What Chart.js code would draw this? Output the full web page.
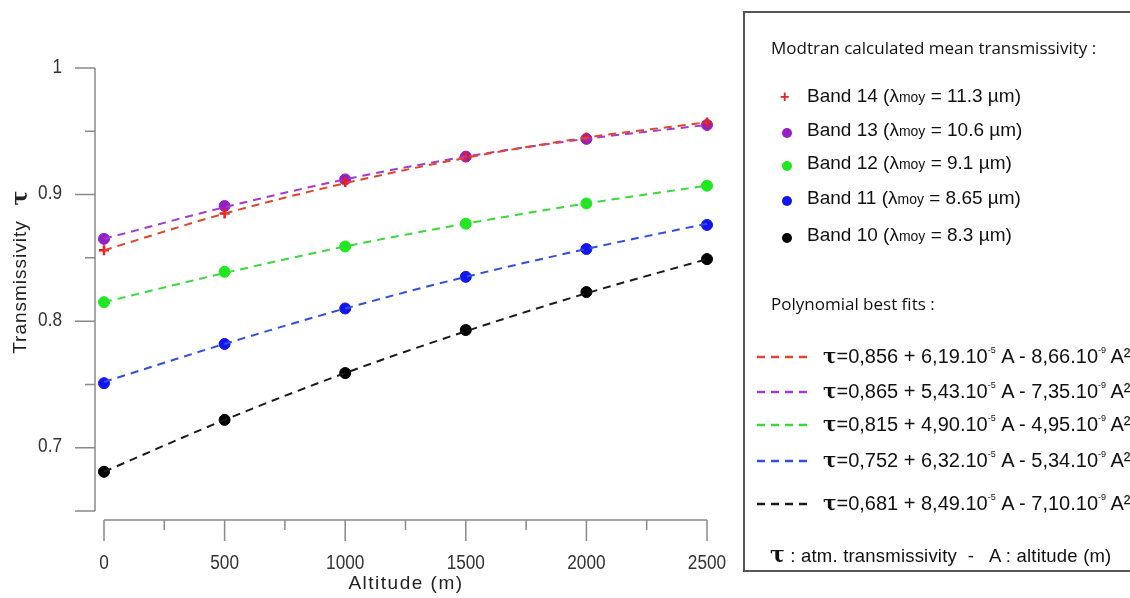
<!DOCTYPE html>
<html>
<head>
<meta charset="utf-8">
<script src="https://cdn.jsdelivr.net/npm/chart.js@4.4.1/dist/chart.umd.min.js"></script>
<style>
  html, body { margin: 0; padding: 0; background: #fff; }
  #wrap { position: relative; width: 1130px; height: 598px; overflow: hidden; }
  #chart { position: absolute; left: 0; top: 0; }
  #legend {
    position: absolute; left: 743px; top: 11px; width: 400px; height: 561px;
    border: 2px solid #555; box-sizing: border-box;
    font-family: "Liberation Sans", Arial, sans-serif; color: #111;
  }
  .row { position: absolute; white-space: nowrap; }
  .head { font-family: "Open Sans", sans-serif; font-size: 17px; left: 26px; }
  .band { font-size: 19px; left: 62px; }
  .mk { position: absolute; width: 10px; height: 10px; border-radius: 50%; left: 37px; }
  .fit { font-size: 20px; left: 78px; }
  .sup { font-size: 9px; position: relative; top: -10px; }
  .moy { font-size: 14px; }
  .tau { font-family: "DejaVu Serif", serif; font-weight: bold; }
</style>
</head>
<body>
<div id="wrap">
  <canvas id="chart" width="1130" height="598"></canvas>
  <div id="legend"></div>
</div>
<script>
document.addEventListener('DOMContentLoaded', function() {
    // altitudes (m)
    const altitudes = [0, 500, 1000, 1500, 2000, 2500];

    // Modtran mean transmissivity
    const band14 = [0.856, 0.885, 0.910, 0.930, 0.945, 0.957];
    const band13 = [0.865, 0.891, 0.912, 0.930, 0.944, 0.955];
    const band12 = [0.815, 0.839, 0.859, 0.877, 0.893, 0.907];
    const band11 = [0.751, 0.782, 0.810, 0.835, 0.857, 0.876];
    const band10 = [0.681, 0.722, 0.759, 0.793, 0.823, 0.849];

    // polynomial best fit curves
    const fit14 = [0.856, 0.885, 0.909, 0.929, 0.945, 0.957];
    const fit13 = [0.865, 0.890, 0.912, 0.930, 0.944, 0.955];
    const fit12 = [0.815, 0.838, 0.859, 0.877, 0.893, 0.907];
    const fit11 = [0.752, 0.782, 0.810, 0.835, 0.857, 0.877];
    const fit10 = [0.681, 0.722, 0.759, 0.792, 0.822, 0.849];

    const bandNames = ['Band 14', 'Band 13', 'Band 12', 'Band 11', 'Band 10'];
    const bandLambda = ['11.3', '10.6', '9.1', '8.65', '8.3'];
    const fitTexts = [
        ['0,856', '6,19', '8,66'],
        ['0,865', '5,43', '7,35'],
        ['0,815', '4,90', '4,95'],
        ['0,752', '6,32', '5,34'],
        ['0,681', '8,49', '7,10']
    ];

    const xTicks = [0, 250, 500, 750, 1000, 1250, 1500, 1750, 2000, 2250, 2500];
    const xTickLabels = ['0', '', '500', '', '1000', '', '1500', '', '2000', '', '2500'];
    const yTicks = [0.65, 0.7, 0.75, 0.8, 0.85, 0.9, 0.95, 1];
    const yTickLabels = ['', '0.7', '', '0.8', '', '0.9', '', '1'];

    const markerColors = ['#e8201c', '#9420c4', '#1ee81e', '#1414ec', '#000000'];
    const lineColors = ['#e2442c', '#a03cd0', '#3ad83a', '#2f4fe0', '#1a1a1a'];
    const pointStyles = ['cross', 'circle', 'circle', 'circle', 'circle'];
    const bandData = [band14, band13, band12, band11, band10];
    const fitData = [fit14, fit13, fit12, fit11, fit10];

    function pts(arr) {
        return arr.map(function(v, i) { return { x: altitudes[i], y: v }; });
    }

    const datasets = [];
    fitData.forEach(function(arr, i) {
        datasets.push({
            type: 'line',
            data: pts(arr),
            borderColor: lineColors[i],
            borderWidth: 2,
            borderDash: [8, 6],
            pointRadius: 0,
            cubicInterpolationMode: 'monotone',
            fill: false,
            clip: false
        });
    });
    bandData.forEach(function(arr, i) {
        datasets.push({
            type: 'scatter',
            data: pts(arr),
            showLine: false,
            pointStyle: pointStyles[i],
            pointRadius: i === 0 ? 5 : 5.5,
            borderWidth: i === 0 ? 2.5 : 1,
            borderColor: markerColors[i],
            backgroundColor: markerColors[i],
            clip: false
        });
    });

    // narrow-looking tick text: draw squeezed horizontally
    function squeezed(ctx, text, x, y, align) {
        ctx.save();
        ctx.translate(x, y);
        ctx.scale(0.86, 1);
        ctx.textAlign = align;
        ctx.fillText(text, 0, 0);
        ctx.restore();
    }

    // detached axes, ticks and labels drawn from the chart's own scales
    const rangeFrame = {
        id: 'rangeFrame',
        afterDraw: function(chart) {
            const ctx = chart.ctx;
            const xs = chart.scales.x, ys = chart.scales.y;
            const axisX = xs.left - 9, axisY = ys.bottom + 9;
            ctx.save();
            ctx.strokeStyle = '#8a8a8a';
            ctx.lineWidth = 1.5;
            ctx.beginPath();
            ctx.moveTo(axisX, ys.getPixelForValue(1));
            ctx.lineTo(axisX, ys.getPixelForValue(0.65));
            ctx.moveTo(xs.getPixelForValue(0), axisY);
            ctx.lineTo(xs.getPixelForValue(2500), axisY);
            yTicks.forEach(function(v, i) {
                const py = ys.getPixelForValue(v);
                const len = (yTickLabels[i] !== '' || v === 0.65) ? 20 : 10;
                ctx.moveTo(axisX - len, py);
                ctx.lineTo(axisX, py);
            });
            xTicks.forEach(function(v, i) {
                const px = xs.getPixelForValue(v);
                const len = xTickLabels[i] !== '' ? 21 : 10;
                ctx.moveTo(px, axisY);
                ctx.lineTo(px, axisY + len);
            });
            ctx.stroke();

            ctx.fillStyle = '#333';
            ctx.font = '20px "Liberation Sans", Arial, sans-serif';
            ctx.textBaseline = 'middle';
            yTicks.forEach(function(v, i) {
                if (yTickLabels[i]) squeezed(ctx, yTickLabels[i], axisX - 33, ys.getPixelForValue(v) - 1, 'right');
            });
            xTicks.forEach(function(v, i) {
                if (xTickLabels[i]) squeezed(ctx, xTickLabels[i], xs.getPixelForValue(v), 563, 'center');
            });

            // axis titles
            ctx.textAlign = 'center';
            ctx.fillStyle = '#222';
            ctx.font = '19px "Liberation Sans", Arial, sans-serif';
            ctx.letterSpacing = '1.5px';
            ctx.fillText('Altitude (m)', 406, 584);
            ctx.translate(21, 282);
            ctx.rotate(-Math.PI / 2);
            ctx.letterSpacing = '1px';
            ctx.fillText('Transmissivity', -5, 0);
            ctx.letterSpacing = '0px';
            ctx.font = 'bold 22px "DejaVu Serif", serif';
            ctx.fillText('τ', 84, 0);
            ctx.restore();
        }
    };

    const chartCtx = document.getElementById('chart').getContext('2d');
    new Chart(chartCtx, {
        data: { datasets: datasets },
        options: {
            responsive: false,
            animation: false,
            layout: { padding: { left: 104, right: 423, top: 68, bottom: 87 } },
            scales: {
                x: { type: 'linear', min: 0, max: 2500, display: false },
                y: { type: 'linear', min: 0.65, max: 1, display: false }
            },
            plugins: { legend: { display: false }, tooltip: { enabled: false } }
        },
        plugins: [rangeFrame]
    });

    // legend box
    const legend = document.getElementById('legend');
    let html = '<div class="row head" style="top:23px">Modtran calculated mean transmissivity :</div>';
    const bandTops = [72, 106, 139, 174, 211];
    bandNames.forEach(function(name, i) {
        const top = bandTops[i];
        if (i === 0) {
            html += '<div class="row" style="left:35px;top:' + (top + 3) + 'px;color:' + markerColors[0] +
                ';font:bold 16px Liberation Sans">+</div>';
        } else {
            html += '<div class="mk" style="top:' + (top + 9) + 'px;background:' + markerColors[i] + '"></div>';
        }
        html += '<div class="row band" style="top:' + top + 'px">' + name + ' (λ<span class="moy">moy</span> = ' +
            bandLambda[i] + ' µm)</div>';
    });
    html += '<div class="row head" style="top:279px">Polynomial best fits :</div>';
    const fitTops = [331, 366, 399, 435, 478];
    fitTexts.forEach(function(t, i) {
        const top = fitTops[i];
        html += '<svg class="row" style="left:12px;top:' + (top + 11) + 'px" width="54" height="4">' +
            '<line x1="0" y1="2" x2="54" y2="2" stroke="' + lineColors[i] + '" stroke-width="2.5" stroke-dasharray="8,6"/></svg>';
        html += '<div class="row fit" style="top:' + top + 'px"><span class="tau">τ</span>=' + t[0] + ' + ' + t[1] +
            '.10<span class="sup">-5</span> A - ' + t[2] + '.10<span class="sup">-9</span> A²</div>';
    });
    html += '<div class="row" style="left:25px;top:528px;font-size:18.5px;letter-spacing:0.2px"><span class="tau" style="font-size:22px">τ</span> : atm. transmissivity &nbsp;- &nbsp; A : altitude (m)</div>';
    legend.innerHTML = html;
});
</script>
</body>
</html>
